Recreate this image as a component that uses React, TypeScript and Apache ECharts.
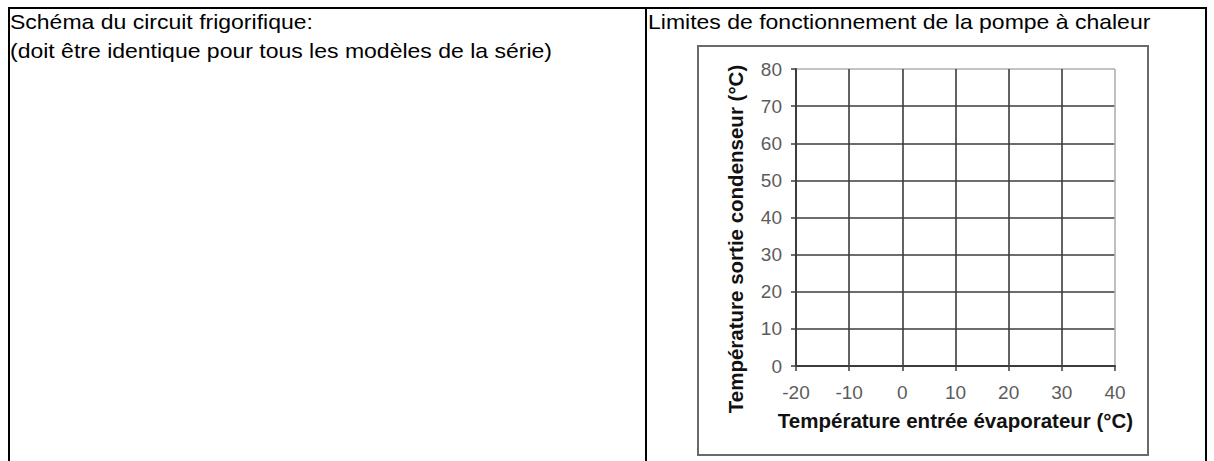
import React, { useEffect, useRef } from "react";
import * as echarts from "echarts";

const leftTitle = ["Schéma du circuit frigorifique:", "(doit être identique pour tous les modèles de la série)"];
const rightTitle = "Limites de fonctionnement de la pompe à chaleur";
const xTicks = [-20, -10, 0, 10, 20, 30, 40];
const yTicks = [0, 10, 20, 30, 40, 50, 60, 70, 80];
const xName = "Température entrée évaporateur (°C)";
const yName = "Température sortie condenseur (°C)";
const limitPoints: number[][] = [];

export default function App() {
  const ref = useRef<HTMLDivElement>(null);
  useEffect(() => {
    if (!ref.current) return;
    const chart = echarts.init(ref.current, null, { renderer: "svg" });
    const dark = "#3c3c3c";
    const light = "#b0b0b0";
    const font = "Liberation Sans, Arial, sans-serif";
    const cellText = (text: string, x: number, y: number) => ({
      type: "text",
      x,
      y,
      scaleX: 1.15,
      style: { text, fill: "#000", font: `20px ${font}`, verticalAlign: "top" },
    });
    chart.setOption({
      animation: false,
      backgroundColor: "#ffffff",
      grid: { left: 796, top: 69, width: 319, height: 297 },
      xAxis: {
        type: "value",
        min: xTicks[0],
        max: xTicks[xTicks.length - 1],
        interval: 10,
        axisLine: { show: true, onZero: false, lineStyle: { color: dark, width: 2 } },
        axisTick: { show: true, length: 5, lineStyle: { color: dark, width: 1.5 } },
        axisLabel: { color: "#5c5c5c", fontSize: 19, fontFamily: font, margin: 17 },
        splitLine: {
          show: true,
          lineStyle: { color: xTicks.map((_, i) => (i === xTicks.length - 1 ? light : dark)), width: 1.6 },
        },
        name: xName,
        nameLocation: "middle",
        nameGap: 44,
        nameTextStyle: { color: "#111", fontSize: 20.5, fontWeight: "bold", fontFamily: font },
      },
      yAxis: {
        type: "value",
        min: yTicks[0],
        max: yTicks[yTicks.length - 1],
        interval: 10,
        axisLine: { show: true, onZero: false, lineStyle: { color: dark, width: 2 } },
        axisTick: { show: true, length: 5, lineStyle: { color: dark, width: 1.5 } },
        axisLabel: { color: "#5c5c5c", fontSize: 19, fontFamily: font, margin: 14 },
        splitLine: {
          show: true,
          lineStyle: { color: yTicks.map((_, i) => (i === yTicks.length - 1 ? light : dark)), width: 1.6 },
        },
      },
      series: [{ type: "scatter", data: limitPoints, symbolSize: 0 }],
      graphic: [
        { type: "line", shape: { x1: 8, y1: 8, x2: 1207, y2: 8 }, style: { stroke: "#000", lineWidth: 2 } },
        { type: "line", shape: { x1: 9, y1: 7, x2: 9, y2: 470 }, style: { stroke: "#000", lineWidth: 2 } },
        { type: "line", shape: { x1: 646, y1: 7, x2: 646, y2: 470 }, style: { stroke: "#000", lineWidth: 2 } },
        { type: "line", shape: { x1: 1206, y1: 7, x2: 1206, y2: 470 }, style: { stroke: "#000", lineWidth: 2 } },
        cellText(leftTitle[0], 10, 12),
        cellText(leftTitle[1], 10, 41),
        cellText(rightTitle, 648, 12),
        { type: "rect", shape: { x: 698, y: 46, width: 450, height: 409 }, style: { fill: "none", stroke: "#6a6a6a", lineWidth: 2 } },
        {
          type: "text",
          x: 735,
          y: 239,
          rotation: Math.PI / 2,
          style: { text: yName, fill: "#111", font: `bold 20.5px ${font}`, align: "center", verticalAlign: "middle" },
        },
      ],
    });
    return () => chart.dispose();
  }, []);
  return <div ref={ref} style={{ position: "fixed", left: 0, top: 0, width: 1214, height: 461 }} />;
}
